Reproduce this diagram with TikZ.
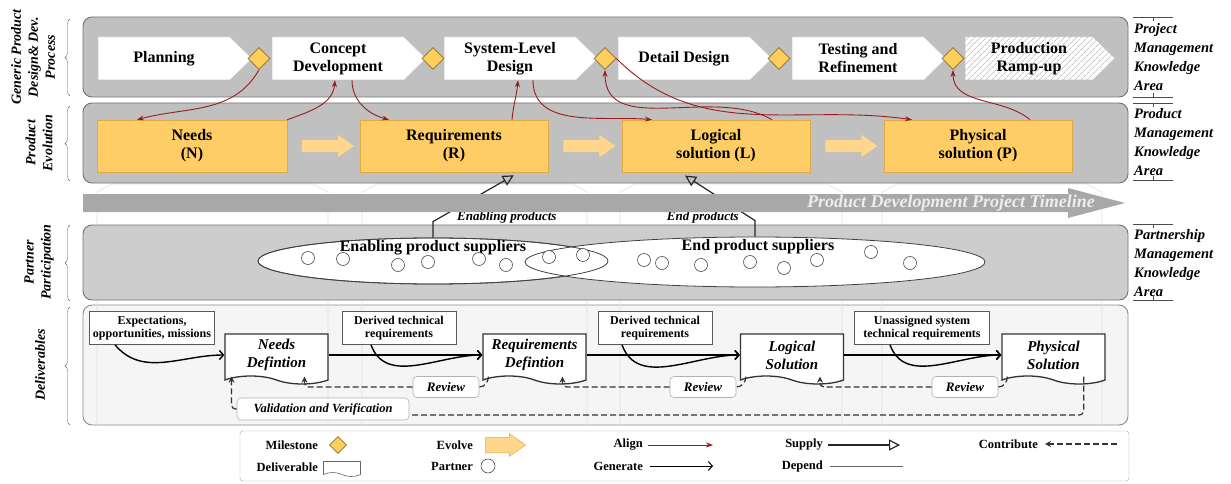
\documentclass[tikz,border=0pt]{standalone}
\usepackage{fontspec}
\setmainfont{Liberation Serif}
\usetikzlibrary{positioning,calc,arrows.meta,shapes.geometric,shapes.symbols,shapes.arrows,decorations.pathreplacing,patterns.meta}
\definecolor{ProcGray}{RGB}{192,192,192}
\definecolor{PartGray}{RGB}{205,205,205}
\definecolor{DelivGray}{RGB}{245,245,245}
\definecolor{ProdYellow}{RGB}{255,205,102}
\definecolor{ProdEdge}{RGB}{226,170,70}
\definecolor{EvolveYellow}{RGB}{255,214,140}
\definecolor{MileYellow}{RGB}{255,207,92}
\definecolor{MileEdge}{RGB}{140,110,45}
\definecolor{AlignRed}{RGB}{150,30,30}
\definecolor{LineGray}{RGB}{168,168,168}
\newcommand\fsz[2]{\fontsize{#1}{#2}\selectfont}
\tikzset{
  panel/.style={draw=black!55,line width=0.9pt,rounded corners=9pt},
  stageline/.style={draw=black!22,line width=0.5pt},
  stagetext/.style={font=\bfseries\fsz{16}{18},align=center,minimum width=132pt,minimum height=43pt,inner sep=0pt},
  milestone/.style={diamond,draw=MileEdge,fill=MileYellow,line width=0.8pt,minimum size=22pt,inner sep=0pt},
  product/.style={draw=ProdEdge,fill=ProdYellow,line width=0.6pt,minimum width=190pt,minimum height=52pt,
    align=center,font=\bfseries\fsz{16}{18},inner sep=0pt},
  evolve/.style={single arrow,fill=EvolveYellow,draw=none,minimum height=52pt,inner xsep=0pt,inner ysep=6pt,
    single arrow head extend=5pt,single arrow tip angle=70},
  alignarrow/.style={draw=AlignRed,line width=0.9pt,-{Stealth[length=7pt,width=5pt]}},
  supply/.style={draw=black!85,line width=1.2pt,-{Triangle[open,length=11pt,width=11pt]}},
  generate/.style={draw=black,line width=1.4pt,-{Straight Barb[length=4pt,width=9pt]}},
  contrib/.style={draw=black!80,line width=1.2pt,dash pattern=on 6pt off 3pt,
    -{Stealth[length=6pt,width=6pt]},rounded corners=4pt},
  depend/.style={draw=black!60,line width=0.6pt},
  partner/.style={circle,draw=black!70,fill=white,line width=0.6pt,minimum size=13pt,inner sep=0pt},
  suplabel/.style={font=\bfseries\fsz{16}{18},inner sep=0pt},
  inbox/.style={draw=black!65,fill=white,line width=0.6pt,align=center,font=\bfseries\fsz{12}{13},
    minimum height=33pt,inner sep=0pt},
  deliv/.style={tape,tape bend top=none,tape bend bottom=out and in,tape bend height=8pt,draw=black!80,
    fill=white,line width=1.3pt,align=center,font=\bfseries\itshape\fsz{15}{18},minimum width=103pt,
    minimum height=50pt,inner sep=0pt},
  review/.style={draw=black!30,fill=white,rounded corners=4pt,line width=0.6pt,
    font=\bfseries\itshape\fsz{13}{15},minimum height=21pt,inner sep=0pt},
  sidelabel/.style={rotate=90,align=center,font=\bfseries\itshape\fsz{14}{17},inner sep=0pt},
  arealabel/.style={anchor=north west,align=left,font=\bfseries\itshape\fsz{14.5}{19},inner sep=0pt},
  colline/.style={draw=black!12,line width=0.6pt},
  legtext/.style={anchor=east,font=\bfseries\fsz{12.5}{14},inner sep=0pt},
}
\begin{document}
\begin{tikzpicture}[x=1pt,y=1pt]
  \useasboundingbox (0,0) rectangle (1231,-484);
  % deliverables panel, faint columns, other panels
  \draw[panel,fill=DelivGray,draw=black!45] (83,-305) rectangle (1128,-425);
  \foreach \l/\r in {97/328,362/587,620/842,882/1102}
    \draw[colline] (\l,-425) -- (\l,-192) -- (\l+15,-184) -- (\r-15,-184) -- (\r,-192) -- (\r,-425);
  \draw[panel,fill=ProcGray] (83,-17) rectangle (1128,-97);
  \draw[panel,fill=ProcGray] (83,-103) rectangle (1128,-183);
  \draw[panel,fill=PartGray] (83,-225) rectangle (1128,-300);

  % process stages and milestones
  \foreach \n/\x/\txt in {pl/98/Planning,cd/272/{Concept\\Development},sd/444/{System-Level\\Design},
      dd/618/Detail Design,tr/792/{Testing and\\Refinement}}{
    \draw[stageline,fill=white] (\x,-37) -- ++(132,0) -- ++(22,-21.5) -- ++(-22,-21.5) -- ++(-132,0) -- cycle;
    \node[stagetext] (\n) at (\x+66,-58.5) {\txt};
  }
  \draw[stageline,preaction={fill=white},pattern={Lines[angle=45,distance=4pt,line width=0.5pt]},
    pattern color=black!35] (965,-37) -- ++(128,0) -- ++(22,-21.5) -- ++(-22,-21.5) -- ++(-128,0) -- cycle;
  \node[stagetext,minimum width=128pt] (pr) at (1029,-58.5) {Production\\Ramp-up};
  \foreach \i/\x in {1/259,2/433,3/605,4/779,5/953}
    \node[milestone] (m\i) at (\x,-58.5) {};

  % product evolution
  \node[product] (need) at (192,-146) {Needs\\(N)};
  \node[product,minimum width=188pt] (req) at (454,-146) {Requirements\\(R)};
  \node[product,minimum width=188pt] (logi) at (716,-146) {Logical\\solution (L)};
  \node[product,minimum width=188pt] (phys) at (978,-146) {Physical\\solution (P)};
  \foreach \a/\b in {need/req,req/logi,logi/phys}
    \node[evolve] (ev\a) at ($(\a.east)!0.5!(\b.west)$) {};

  % align
  \draw[alignarrow] (m1.south) to[out=-120,in=15] ([xshift=-55pt]need.north);
  \draw[alignarrow] (need.north east) to[out=20,in=-95] ([xshift=-3pt]cd.south);
  \draw[alignarrow] ([xshift=14pt]cd.south) to[out=-90,in=165] ([xshift=-65pt]req.north);
  \draw[alignarrow] ([xshift=58pt]req.north) to[out=85,in=-95] ([xshift=8pt]sd.south);
  \draw[alignarrow] ([xshift=23pt]sd.south) to[out=-90,in=175] ([xshift=-64pt]logi.north);
  \draw[alignarrow] ([xshift=56pt]logi.north) to[out=150,in=-90] (m3.south);
  \draw[alignarrow] (m3.east) to[out=-45,in=172] ([xshift=-66pt]phys.north);
  \draw[alignarrow] ([xshift=52pt]phys.north) to[out=140,in=-90] (m5.south);

  % partners
  \node[ellipse,draw=black!75,fill=white,line width=0.8pt,minimum width=350pt,minimum height=46pt] (enab) at (433,-261) {};
  \node[ellipse,draw=black!75,fill=white,line width=0.8pt,minimum width=460pt,minimum height=50pt] (endp) at (755,-262) {};
  \draw[black!75,line width=0.8pt] (enab.center) ellipse (175pt and 23pt);
  \node[suplabel] (enlab) at (433,-248) {Enabling product suppliers};
  \node[suplabel] (endlab) at (758,-247) {End product suppliers};
  \foreach \x/\y [count=\k] in {308/258,343/259,398/265,428/262,479/259,506/265,549/257,583/255,
      644/260,662/263,701/265,750/262,784/268,817/260,871/252,910/263}
    \node[partner] (p\k) at (\x,-\y) {};

  % supply
  \draw[supply,shorten >=6pt] (enab.north) -- ++(0,16) -- ([xshift=65pt]req.south);
  \draw[supply,shorten >=6pt] (endp.north) -- ++(0,16) -- ([xshift=-36pt]logi.south);
  \node[font=\bfseries\itshape\fsz{13}{15},anchor=west,inner sep=0pt] (enprod) at (457,-217) {Enabling products};
  \node[font=\bfseries\itshape\fsz{13}{15},anchor=east,inner sep=0pt] (endprod) at (739,-217) {End products};

  % timeline
  \fill[LineGray] (83,-194) -- (1068,-194) -- (1068,-188) -- (1125,-203) -- (1068,-218) -- (1068,-212) -- (83,-212) -- cycle;
  \node[font=\bfseries\itshape\fsz{18}{20},text=white!93!black,anchor=east,inner sep=0pt] (tline) at (1095,-203)
    {Product Development Project Timeline};

  % deliverables
  \node[inbox,minimum width=125pt] (exp) at (152,-328) {Expectations,\\opportunities, missions};
  \node[inbox,minimum width=114pt] (der1) at (399,-328) {Derived technical\\requirements};
  \node[inbox,minimum width=114pt] (der2) at (655,-328) {Derived technical\\requirements};
  \node[inbox,minimum width=135pt] (unas) at (922,-328) {Unassigned system\\technical requirements};
  \node[deliv] (nd) at (276.5,-355) {Needs\\Defintion};
  \node[deliv] (rd) at (534.5,-355) {Requirements\\Defintion};
  \node[deliv] (ls) at (792,-355) {Logical\\Solution};
  \node[deliv] (ps) at (1053.5,-355) {Physical\\Solution};
  \node[review,minimum width=66pt] (rv1) at (446,-387) {Review};
  \node[review,minimum width=66pt] (rv2) at (703,-387) {Review};
  \node[review,minimum width=66pt] (rv3) at (965,-387) {Review};
  \node[review,minimum width=172pt,minimum height=22pt,font=\bfseries\itshape\fsz{12.5}{15}] (vv) at (323,-409)
    {Validation and Verification};

  \draw[generate] ([xshift=-37pt]exp.south) to[out=-50,in=180] (nd.west);
  \draw[generate] (nd.east) -- (rd.west);
  \draw[generate] ([xshift=-28pt]der1.south) to[out=-70,in=180] (rd.west);
  \draw[generate] (rd.east) -- (ls.west);
  \draw[generate] ([xshift=-33pt]der2.south) to[out=-70,in=180] (ls.west);
  \draw[generate] (ls.east) -- (ps.west);
  \draw[generate] ([xshift=-32pt]unas.south) to[out=-70,in=180] (ps.west);

  \draw[contrib] ([xshift=6pt]rd.south west) to[out=-90,in=0] (rv1.east) (rv1.west) -| ([xshift=28pt]nd.south);
  \draw[contrib] ([xshift=6pt]ls.south west) to[out=-90,in=0] (rv2.east) (rv2.west) -| ([xshift=28pt]rd.south);
  \draw[contrib] ([xshift=6pt]ps.south west) to[out=-90,in=0] (rv3.east) (rv3.west) -| ([xshift=28pt]ls.south);
  \draw[contrib] ([xshift=-22pt]ps.south east) |- ([yshift=-6pt]vv.east) (vv.west) -| ([xshift=-45pt]nd.south);

  % side labels and braces
  \node[sidelabel] (gpd) at (33,-57) {Generic Product\\Design\& Dev.\\Process};
  \node[sidelabel] (pev) at (39,-143) {Product\\Evolution};
  \node[sidelabel] (ppa) at (39,-262) {Partner\\Participation};
  \node[sidelabel] (dlv) at (40,-365) {Deliverables};
  \foreach \ya/\yb in {19/96,106/181,225/301,307/425}
    \draw[black!60,decorate,decoration={brace,amplitude=5pt}] (70,-\yb) -- (70,-\ya);

  \foreach \ya/\yb in {17/97,103/180,224/300}{
    \draw[black!70] (1133,-\ya) -- (1173,-\ya) (1153,-\ya) -- ++(0,-4);
    \draw[black!70] (1133,-\yb) -- (1173,-\yb) (1153,-\yb) -- ++(0,4);
  }
  \node[arealabel] (pmka) at (1134,-23) {Project\\Management\\Knowledge\\Area};
  \node[arealabel] (prka) at (1134,-108) {Product\\Management\\Knowledge\\Area};
  \node[arealabel] (ptka) at (1134,-229) {Partnership\\Management\\Knowledge\\Area};

  % legend
  \draw[draw=black!35,fill=white,rounded corners=3pt] (240,-431) rectangle (1129,-481);
  \node[legtext] (lgMile) at (318,-445) {Milestone};
  \node[milestone,minimum size=17pt] (lgMileS) at (338,-445) {};
  \node[legtext] (lgDeliv) at (318,-467) {Deliverable};
  \node[deliv,minimum width=37pt,minimum height=15pt,tape bend height=4pt,line width=0.6pt,draw=black!60] (lgDelivS) at (342,-467) {};
  \node[legtext] (lgEvo) at (473,-445) {Evolve};
  \node[evolve,minimum height=40pt,inner ysep=7.5pt,single arrow head extend=3.5pt,draw=ProdEdge,line width=0.5pt] (lgEvoS) at (500,-445) {};
  \node[legtext] (lgPart) at (473,-466) {Partner};
  \node[partner,minimum size=14pt] (lgPartS) at (488,-466) {};
  \node[legtext] (lgAlign) at (643,-445) {Align};
  \draw[alignarrow] ([xshift=5pt]lgAlign.east) -- ++(65,0);
  \node[legtext] (lgGen) at (643,-466) {Generate};
  \draw[generate,line width=1pt] ([xshift=7pt]lgGen.east) -- ++(63,0);
  \node[legtext] (lgSup) at (823,-445) {Supply};
  \draw[supply] ([xshift=5pt]lgSup.east) -- ++(72,0);
  \node[legtext] (lgDep) at (823,-466) {Depend};
  \draw[depend] ([xshift=7pt]lgDep.east) -- ++(73,0);
  \node[legtext] (lgCon) at (1038,-444) {Contribute};
  \draw[contrib] ([xshift=79pt]lgCon.east) -- ([xshift=7pt]lgCon.east);
\end{tikzpicture}
\end{document}
